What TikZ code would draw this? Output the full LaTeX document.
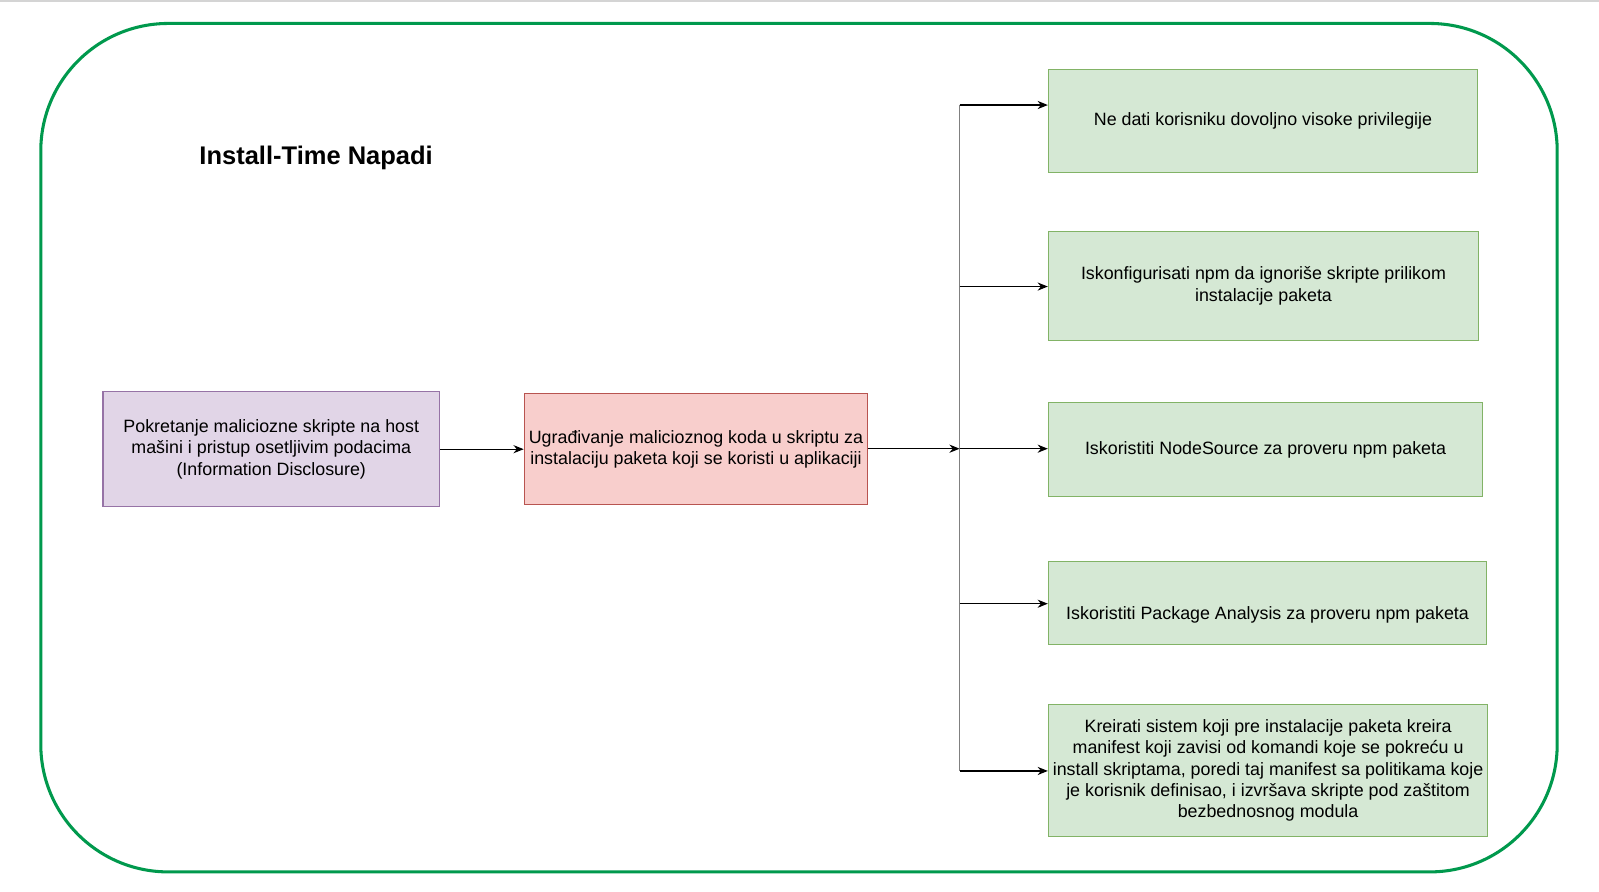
\documentclass[tikz,border=0pt]{standalone}
\usepackage{fontspec}
\setmainfont{Liberation Sans}
\usetikzlibrary{arrows.meta}
\definecolor{outergreen}{HTML}{00994D}
\definecolor{purplefill}{HTML}{E1D5E7}
\definecolor{purpledraw}{HTML}{9673A6}
\definecolor{redfill}{HTML}{F8CECC}
\definecolor{reddraw}{HTML}{B85450}
\definecolor{greenfill}{HTML}{D5E8D4}
\definecolor{greendraw}{HTML}{82B366}
\definecolor{topgray}{HTML}{D4D4D4}
\definecolor{trunkgray}{HTML}{808080}
\tikzset{
  box/.style={rectangle, draw, line width=1pt, align=center, inner sep=2pt,
    font=\fontsize{17.5}{21}\selectfont},
  pbox/.style={box, fill=purplefill, draw=purpledraw},
  rbox/.style={box, fill=redfill, draw=reddraw},
  gbox/.style={box, fill=greenfill, draw=greendraw},
  arr/.style={draw=black, line width=1.1pt, -{Stealth[length=10pt,width=8pt]}},
  trunk/.style={draw=trunkgray, line width=1.6pt},
}
\begin{document}
\begin{tikzpicture}[x=1pt,y=-1pt]
\useasboundingbox (0,0) rectangle (1568,874);
\fill[white] (0,0) rectangle (1568,874);
\draw[topgray, line width=1.5pt] (0,0.75) -- (1568,0.75);
\draw[outergreen, line width=3pt, rounded corners=125pt] (40,23) rectangle (1527,855);

\node[font=\bfseries\fontsize{25}{30}\selectfont] (title) at (310,154.5) {Install-Time Napadi};

\node[pbox, minimum width=330pt, minimum height=113pt] (p) at (266,440.5)
  {Pokretanje maliciozne skripte na host\\ mašini i pristup osetljivim podacima\\ (Information Disclosure)};
\node[rbox, minimum width=337pt, minimum height=109pt] (r) at (682.5,440.5)
  {Ugrađivanje malicioznog koda u skriptu za\\ instalaciju paketa koji se koristi u aplikaciji};

\node[gbox, minimum width=421pt, minimum height=101pt] (g1) at (1238.5,118.5)
  {Ne dati korisniku dovoljno visoke privilegije};
\node[gbox, minimum width=422pt, minimum height=107pt] (g2) at (1239,280.5)
  {Iskonfigurisati npm da ignoriše skripte prilikom\\ instalacije paketa};
\node[gbox, minimum width=426pt, minimum height=92pt] (g3) at (1241,441)
  {Iskoristiti NodeSource za proveru npm paketa};
\node[gbox, minimum width=430pt, minimum height=81pt] (g4) at (1243,591.5)
  {\strut\\ Iskoristiti Package Analysis za proveru npm paketa};
\node[gbox, minimum width=431pt, minimum height=129pt] (g5) at (1243.5,755.5)
  {Kreirati sistem koji pre instalacije paketa kreira\\ manifest koji zavisi od komandi koje se pokreću u\\ install skriptama, poredi taj manifest sa politikama koje\\ je korisnik definisao, i izvršava skripte pod zaštitom\\ bezbednosnog modula};

\coordinate (j1) at (941,103);
\coordinate (j2) at (941,281);
\coordinate (j3) at (941,440);
\coordinate (j4) at (941,592);
\coordinate (j5) at (941,756);

\draw[trunk] (j1) -- (j5);
\draw[arr] (p.east) -- (r.west |- p.east);
\draw[arr] (r.east |- j3) -- (j3);
\draw[arr] (j1) -- (g1.west |- j1);
\draw[arr] (j2) -- (g2.west |- j2);
\draw[arr] (j3) -- (g3.west |- j3);
\draw[arr] (j4) -- (g4.west |- j4);
\draw[arr] (j5) -- (g5.west |- j5);
\end{tikzpicture}
\end{document}
